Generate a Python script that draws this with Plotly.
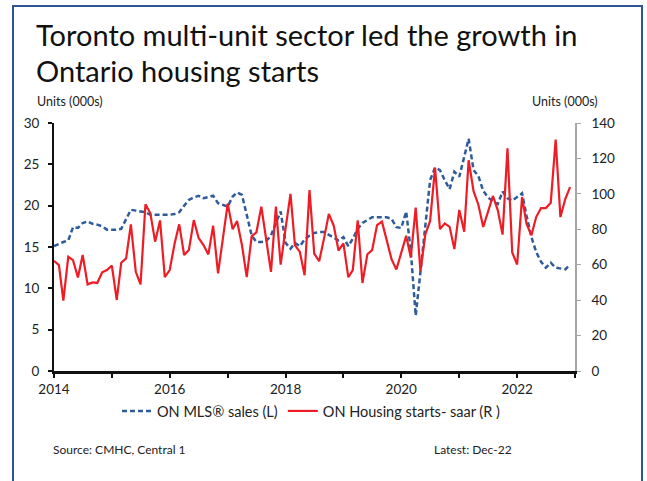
import plotly.graph_objects as go
import pandas as pd

# ---- data ----
months = pd.date_range("2014-01-01", "2022-12-01", freq="MS")

mls_sales = [
    15.1, 15.4, 15.6, 15.8, 17.4, 17.3, 17.9, 18.1, 17.8, 17.7, 17.5, 17.1,
    17.1, 17.1, 17.2, 18.3, 19.5, 19.4, 19.3, 19.2, 18.9, 18.9, 18.9, 18.9,
    18.9, 19.0, 19.2, 20.0, 20.7, 21.0, 21.2, 20.9, 21.1, 21.2, 20.3, 20.1,
    19.9, 21.1, 21.6, 21.3, 18.9, 16.4, 15.6, 15.6, 15.7, 16.4, 17.9, 19.3,
    15.5, 14.8, 15.5, 15.1, 15.9, 16.4, 16.7, 16.8, 16.8, 16.5, 16.2, 15.8,
    16.2, 15.1, 16.0, 17.2, 17.9, 18.3, 18.6, 18.6, 18.6, 18.6, 18.4, 17.4,
    17.3, 19.3, 14.5, 6.7, 12.0, 17.7, 23.1, 24.6, 24.3, 23.1, 22.0, 24.1,
    23.5, 25.9, 28.1, 24.3, 23.6, 21.8, 21.0, 20.5, 20.2, 21.7, 20.9, 20.6,
    21.1, 21.5, 18.8, 16.2, 14.4, 13.2, 12.5, 13.1, 12.5, 12.4, 12.3, 12.9,
]

housing_starts = [
    62.2, 59.8, 39.7, 64.5, 62.6, 52.8, 65.5, 48.9, 50.0, 49.7, 55.7, 57.0,
    59.5, 40.1, 61.1, 63.6, 82.8, 56.0, 48.9, 94.1, 89.0, 73.0, 85.0, 53.0,
    57.0, 72.0, 82.8, 65.5, 68.3, 85.2, 75.2, 71.1, 65.8, 82.0, 55.1, 75.5,
    94.5, 80.0, 84.7, 71.0, 53.0, 76.0, 78.3, 92.8, 75.0, 56.0, 92.8, 60.0,
    80.5, 100.0, 71.1, 67.2, 54.1, 102.1, 66.2, 62.0, 75.0, 88.7, 82.0, 68.0,
    72.0, 52.9, 57.0, 85.1, 49.7, 65.9, 68.2, 82.4, 84.3, 73.9, 63.0, 57.3,
    67.6, 76.3, 64.0, 92.2, 56.4, 77.2, 84.7, 114.8, 80.1, 83.3, 81.4, 68.8,
    90.9, 78.6, 119.0, 101.5, 94.0, 81.3, 89.8, 98.8, 90.7, 77.0, 125.7, 66.9,
    60.1, 98.2, 83.2, 76.6, 86.9, 92.0, 92.0, 95.0, 130.6, 86.9, 97.2, 103.8,
]

year_ticks = ["2014-01-01", "2015-01-01", "2016-01-01", "2017-01-01", "2018-01-01",
              "2019-01-01", "2020-01-01", "2021-01-01", "2022-01-01", "2023-01-01"]
year_labels = ["2014", "", "2016", "", "2018", "", "2020", "", "2022", ""]

FONT = "Lato, 'Noto Sans', sans-serif"

fig = go.Figure()
fig.add_trace(go.Scatter(
    x=months, y=mls_sales, name="ON MLS® sales (L)", mode="lines",
    line=dict(color="#2E5C9A", width=2.5, dash="5px,3px"), yaxis="y"))
fig.add_trace(go.Scatter(
    x=months, y=housing_starts, name="ON Housing starts- saar (R )", mode="lines",
    line=dict(color="#EE1C25", width=2.2), yaxis="y2"))

L, R, T, B = 54, 72, 123, 110
PW, PH = 647 - L - R, 481 - T - B

def px(x):
    return (x - L) / PW

def py(y):
    return (481 - B - y) / PH

fig.update_layout(
    width=647, height=481,
    margin=dict(l=L, r=R, t=T, b=B, pad=0),
    paper_bgcolor="white", plot_bgcolor="white",
    font=dict(family=FONT, size=13, color="#222222"),
    showlegend=True,
    legend=dict(orientation="h", x=px(117), y=py(411), xanchor="left", yanchor="middle",
                font=dict(size=14.5, color="#222222"), itemwidth=30,
                bgcolor="rgba(0,0,0,0)"),
    xaxis=dict(type="date", range=["2014-01-01", "2023-01-01"],
               tickvals=year_ticks, ticktext=year_labels,
               showline=True, linecolor="#111111", linewidth=2.5,
               ticks="outside", ticklen=4, tickwidth=1.5, tickcolor="#111111",
               showgrid=False, zeroline=False, tickfont=dict(size=13.5)),
    yaxis=dict(range=[0, 30], dtick=5, showline=True, linecolor="#111111", linewidth=2,
               ticks="outside", ticklen=4, tickwidth=1.5, tickcolor="#111111",
               showgrid=False, zeroline=False, tickfont=dict(size=13.5),
               ticklabelstandoff=6),
    yaxis2=dict(range=[0, 140], dtick=20, overlaying="y", side="right",
                showline=True, linecolor="#A6A6A6", linewidth=1.5,
                ticks="outside", ticklen=4, tickwidth=1, tickcolor="#A6A6A6",
                showgrid=False, zeroline=False, tickfont=dict(size=13.5),
                ticklabelstandoff=8),
)

annots = [
    dict(text="Toronto multi-unit sector led the growth in", x=px(34), y=py(34),
         xanchor="left", yanchor="middle", font=dict(size=29, color="#111111")),
    dict(text="Ontario housing starts", x=px(34), y=py(70),
         xanchor="left", yanchor="middle", font=dict(size=29, color="#111111")),
    dict(text="Units (000s)", x=px(35), y=py(101), xanchor="left", yanchor="middle",
         font=dict(size=12.5, color="#222222")),
    dict(text="Units (000s)", x=px(600), y=py(101), xanchor="right", yanchor="middle",
         font=dict(size=12.5, color="#222222")),
    dict(text="Source: CMHC, Central 1", x=px(51), y=py(449), xanchor="left",
         yanchor="middle", font=dict(size=12, color="#222222")),
    dict(text="Latest: Dec-22", x=px(432), y=py(449), xanchor="left",
         yanchor="middle", font=dict(size=12, color="#222222")),
]
for a in annots:
    fig.add_annotation(xref="paper", yref="paper", showarrow=False, **a)

fig.add_shape(type="rect", xref="paper", yref="paper",
              x0=px(13), x1=px(642), y0=py(520), y1=py(6),
              line=dict(color="#2F5597", width=2), fillcolor="rgba(0,0,0,0)",
              layer="below")

fig.write_html("out.html")
